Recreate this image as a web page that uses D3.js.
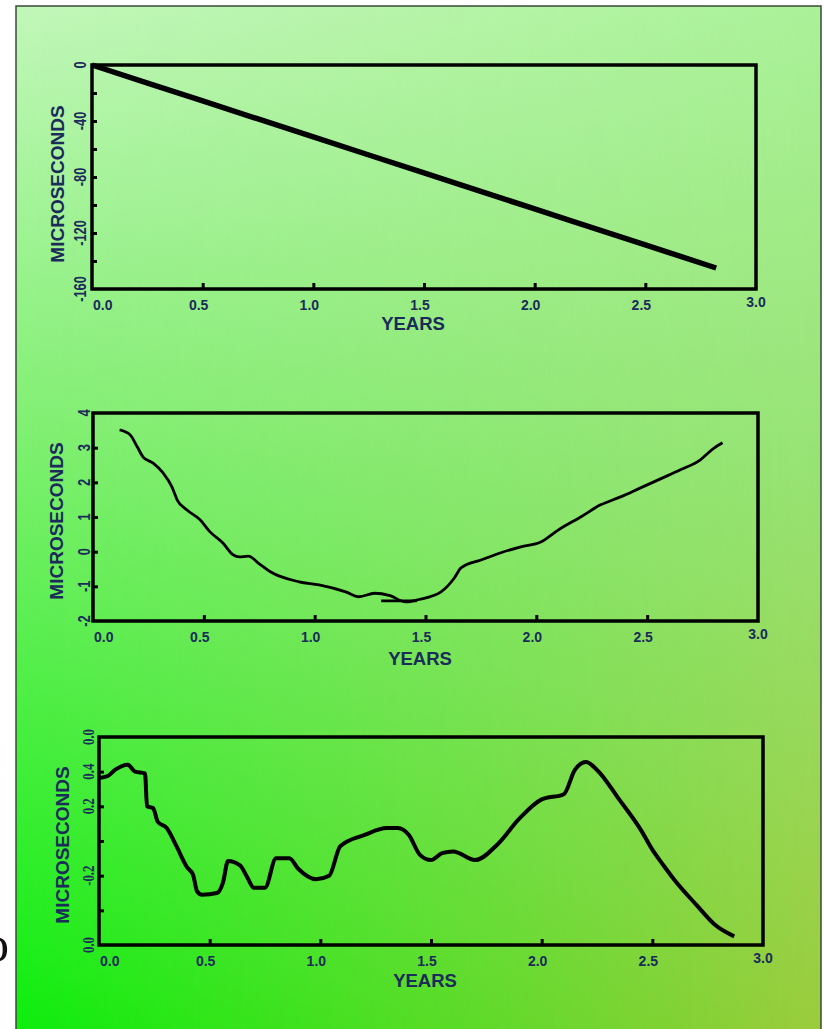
<!DOCTYPE html>
<html><head><meta charset="utf-8">
<script src="https://cdn.jsdelivr.net/npm/d3@7"></script>
<style>html,body{margin:0;padding:0;background:#fff;overflow:hidden}svg{display:block}</style>
</head><body>
<script>
// ---------- DATA ----------
const xTickValues = [0, 0.5, 1, 1.5, 2, 2.5, 3];
const xTickLabels = ["0.0", "0.5", "1.0", "1.5", "2.0", "2.5", "3.0"];

// Panel 1 : linear drift
const p1Years  = [0, 0.5, 1.0, 1.5, 2.0, 2.5, 2.82];
const p1Values = [0, -25.7, -51.4, -77.1, -102.8, -128.5, -145];
const p1YTicks = [0, -20, -40, -60, -80, -100, -120, -140, -160];
const p1YLabels = ["0", "", "-40", "", "-80", "", "-120", "", "-160"];

// Panel 2 : residuals after linear fit
const p2Years  = [0.12,0.167,0.2,0.226,0.27,0.316,0.356,0.38,0.424,0.483,0.528,0.586,0.632,0.66,0.7,0.75,0.8,0.93,1.02,1.14,1.2,1.27,1.34,1.41,1.47,1.57,1.63,1.66,1.75,1.84,1.93,2.02,2.1,2.2,2.29,2.38,2.47,2.56,2.65,2.74,2.8,2.84];
const p2Values = [3.51,3.37,3.02,2.73,2.56,2.27,1.87,1.49,1.2,0.92,0.57,0.25,-0.09,-0.15,-0.13,-0.35,-0.58,-0.87,-0.96,-1.16,-1.3,-1.2,-1.27,-1.45,-1.38,-1.16,-0.76,-0.47,-0.24,-0.03,0.14,0.28,0.63,1.0,1.35,1.58,1.84,2.1,2.36,2.65,2.98,3.14];
// short flat trace under the minimum
const p2bYears  = [1.3, 1.46];
const p2bValues = [-1.42, -1.42];
const p2YTicks = [4, 3, 2, 1, 0, -1, -2];
const p2YLabels = ["4", "3", "2", "1", "0", "-1", "-2"];

// Panel 3 : residuals after quadratic fit
const p3Years  = [0,0.04,0.072,0.13,0.163,0.208,0.217,0.244,0.266,0.306,0.35,0.397,0.425,0.443,0.465,0.533,0.56,0.583,0.637,0.67,0.7,0.75,0.8,0.86,0.9,0.98,1.04,1.09,1.2,1.3,1.35,1.4,1.45,1.5,1.55,1.6,1.7,1.8,1.9,2.0,2.1,2.15,2.2,2.25,2.35,2.45,2.5,2.55,2.6,2.7,2.78,2.87];
const p3Values = [0.363,0.375,0.41,0.44,0.40,0.39,0.20,0.19,0.11,0.075,-0.03,-0.15,-0.195,-0.29,-0.31,-0.30,-0.24,-0.115,-0.14,-0.21,-0.27,-0.27,-0.1,-0.1,-0.16,-0.22,-0.2,-0.03,0.035,0.075,0.075,0.035,-0.08,-0.11,-0.07,-0.06,-0.11,-0.02,0.13,0.24,0.27,0.41,0.456,0.41,0.24,0.06,-0.05,-0.14,-0.225,-0.37,-0.48,-0.55];
const p3YTicks = [0.6, 0.4, 0.2, 0.0, -0.2, -0.4, -0.6];
const p3YLabels = ["0.0", "0.4", "0.2", "", "-0.2", "", "0.0"];

const yTitle = "MICROSECONDS";
const xTitle = "YEARS";

// ---------- DRAW ----------
const W = 825, H = 1029;
const svg = d3.select("body").append("svg").attr("width", W).attr("height", H);
const defs = svg.append("defs");

const gl = defs.append("linearGradient").attr("id","gl").attr("x1",0).attr("y1",0).attr("x2",0).attr("y2",1);
gl.append("stop").attr("offset","0%").attr("stop-color","#c2f7ba");
gl.append("stop").attr("offset","40%").attr("stop-color","#82f074");
gl.append("stop").attr("offset","100%").attr("stop-color","#0cee0c");
const gr = defs.append("linearGradient").attr("id","gr").attr("x1",0).attr("y1",0).attr("x2",0).attr("y2",1);
gr.append("stop").attr("offset","0%").attr("stop-color","#aaf198");
gr.append("stop").attr("offset","45%").attr("stop-color","#98e274");
gr.append("stop").attr("offset","100%").attr("stop-color","#9ccb3c");
const gm = defs.append("linearGradient").attr("id","gm").attr("x1",0).attr("y1",0).attr("x2",1).attr("y2",0);
gm.append("stop").attr("offset","0%").attr("stop-color","#fff").attr("stop-opacity",0);
gm.append("stop").attr("offset","100%").attr("stop-color","#fff").attr("stop-opacity",1);
defs.append("mask").attr("id","mk").attr("maskContentUnits","userSpaceOnUse")
  .append("rect").attr("x",16).attr("y",6).attr("width",805).attr("height",1030).attr("fill","url(#gm)");

svg.append("rect").attr("x",16).attr("y",6).attr("width",805).attr("height",1030).attr("fill","url(#gl)");
svg.append("rect").attr("x",16).attr("y",6).attr("width",805).attr("height",1030).attr("fill","url(#gr)").attr("mask","url(#mk)");
svg.append("rect").attr("x",16).attr("y",6).attr("width",805).attr("height",1030)
  .attr("fill","none").attr("stroke","#3a4a3a").attr("stroke-width",1.5);

svg.append("text").attr("x",-16).attr("y",961).attr("font-family","Liberation Serif")
  .attr("font-size",50).attr("fill","#111").text("o");

const navy = "#1b2b5a";

function panel(o) {
  const x = d3.scaleLinear().domain([0,3]).range([o.left, o.right]);
  const y = d3.scaleLinear().domain(o.yDomain).range([o.bottom, o.top]);
  const g = svg.append("g");

  // ticks (inward)
  const xa = d3.axisBottom(x).tickValues(xTickValues.slice(1, -1)).tickSize(-6).tickSizeOuter(0).tickFormat("");
  const gx = g.append("g").attr("transform",`translate(0,${o.bottom})`).call(xa);
  gx.select(".domain").remove();
  gx.selectAll("line").attr("stroke","#000").attr("stroke-width",3);

  const ya = d3.axisLeft(y).tickValues(o.yTicks.slice(1, -1)).tickSize(-5).tickSizeOuter(0).tickFormat("");
  const gy = g.append("g").attr("transform",`translate(${o.left},0)`).call(ya);
  gy.select(".domain").remove();
  gy.selectAll("line").attr("stroke","#000").attr("stroke-width",3);

  // frame
  g.append("rect").attr("x",o.left).attr("y",o.top).attr("width",o.right-o.left).attr("height",o.bottom-o.top)
    .attr("fill","none").attr("stroke","#000").attr("stroke-width",3.5);

  // x tick labels
  const last = xTickValues.length - 1;
  g.selectAll(".xl").data(xTickValues).join("text")
    .attr("x", (d,i) => x(d) + (i===0 ? 1 : i===last ? 0 : -4))
    .attr("y", (d,i) => o.bottom + (i===last ? 18 : 21))
    .attr("text-anchor", (d,i) => i===0 ? "start" : "middle")
    .attr("font-family", o.xFont).attr("font-weight","bold")
    .attr("font-size",14).attr("fill",navy)
    .text((d,i) => xTickLabels[i]);

  // y tick labels (rotated)
  g.selectAll(".yl").data(o.yTicks).join("text")
    .attr("transform", d => `translate(${o.labelX},${y(d)}) rotate(-90) scale(0.78,1)`)
    .attr("text-anchor","middle").attr("font-family", o.yFont).attr("font-weight","bold")
    .attr("font-size",16.5).attr("fill",navy)
    .text((d,i) => o.yLabels[i]);

  // titles
  g.append("text").attr("transform",`translate(${o.titleX},${(o.top+o.bottom)/2 + o.titleDy}) rotate(-90)`)
    .attr("text-anchor","middle").attr("font-family","Liberation Sans").attr("font-weight","bold")
    .attr("font-size",19).attr("fill",navy).text(yTitle);
  g.append("text").attr("x",o.xTitleX).attr("y",o.bottom+o.xTitleDy).attr("text-anchor","middle")
    .attr("font-family","Liberation Sans").attr("font-weight","bold").attr("font-size",18.5)
    .attr("fill",navy).text(xTitle);

  // series
  const line = d3.line().x(d => x(d[0])).y(d => y(d[1])).curve(d3.curveMonotoneX);
  o.series.forEach(s => {
    g.append("path").datum(d3.zip(s[0], s[1])).attr("d", line)
      .attr("fill","none").attr("stroke","#000").attr("stroke-width",o.sw)
      .attr("stroke-linejoin","round").attr("stroke-linecap","butt");
  });
}

panel({left:92,right:756,top:65,bottom:289,yDomain:[-160,0],yTicks:p1YTicks,yLabels:p1YLabels,
  series:[[p1Years,p1Values]],sw:5.5,labelX:86,titleX:64,titleDy:7,xTitleX:413,xTitleDy:41,
  xFont:"Liberation Sans",yFont:"Liberation Sans"});
panel({left:93,right:758,top:413,bottom:621,yDomain:[-2,4],yTicks:p2YTicks,yLabels:p2YLabels,
  series:[[p2Years,p2Values],[p2bYears,p2bValues]],sw:2.8,labelX:90,titleX:63,titleDy:4,xTitleX:420,xTitleDy:44,
  xFont:"Liberation Sans",yFont:"Liberation Sans"});
panel({left:99,right:763,top:737,bottom:945,yDomain:[-0.6,0.6],yTicks:p3YTicks,yLabels:p3YLabels,
  series:[[p3Years,p3Values]],sw:4,labelX:94,titleX:69,titleDy:4,xTitleX:425,xTitleDy:42,
  xFont:"Liberation Sans",yFont:"Liberation Serif"});
</script>
</body></html>
